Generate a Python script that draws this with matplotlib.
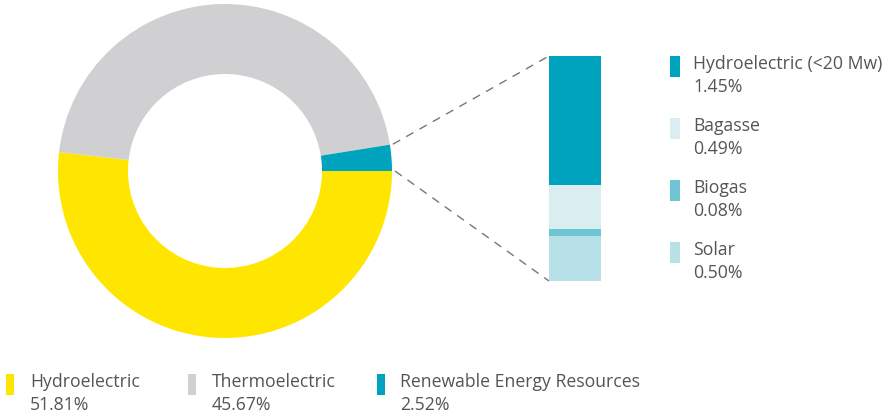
import numpy as np
import matplotlib
matplotlib.use("Agg")
import matplotlib.pyplot as plt
from matplotlib.patches import Rectangle

plt.rcParams['font.family'] = ['Open Sans', 'DejaVu Sans']

# Data
main_labels = ["Hydroelectric", "Thermoelectric", "Renewable Energy Resources"]
main_values = [51.81, 45.67, 2.52]
main_colors = ["#FFE600", "#D0D0D2", "#00A3BE"]

sub_labels = ["Hydroelectric (<20 Mw)", "Bagasse", "Biogas", "Solar"]
sub_values = [1.45, 0.49, 0.08, 0.50]
sub_colors = ["#00A3BE", "#DAEDF0", "#6EC6D5", "#B8E0E7"]

W, H = 887, 416
fig = plt.figure(figsize=(W / 100, H / 100), dpi=100)
ax = fig.add_axes([0, 0, 1, 1])

cx, cy, R, ring = 225, H - 171, 167, 70
ax.pie(main_values, colors=main_colors, startangle=0, counterclock=False,
       radius=R, center=(cx, cy), wedgeprops=dict(width=ring, linewidth=0))
ax.set_xlim(0, W)
ax.set_ylim(0, H)
ax.set_aspect('equal')
ax.axis('off')

# stacked bar
bx0, bw, btop, bbot = 549, 52, 56, 281
bax = fig.add_axes([bx0 / W, (H - bbot) / H, bw / W, (bbot - btop) / H])
total = sum(sub_values)
top = total
for v, c in zip(sub_values, sub_colors):
    bax.bar(0, v, bottom=top - v, width=1, color=c, linewidth=0)
    top -= v
bax.set_xlim(-0.5, 0.5)
bax.set_ylim(0, total)
bax.axis('off')

# connector lines
theta = np.deg2rad(360 * main_values[2] / sum(main_values))
x1, y1 = cx + (R + 3) * np.cos(theta), cy + (R + 3) * np.sin(theta)
ax.plot([x1, bx0], [y1, H - btop], ls=(0, (6, 5)), color="#777777", lw=1)
ax.plot([cx + R + 3, bx0], [cy, H - bbot], ls=(0, (6, 5)), color="#777777", lw=1)

tc = "#555555"
fs = 12.7
# right legend
for i, (lab, v, c) in enumerate(zip(sub_labels, sub_values, sub_colors)):
    y = 56 + i * 62
    ax.add_patch(Rectangle((670, H - y - 21), 10, 21, color=c, lw=0))
    ax.text(693, H - y - 8, lab, fontsize=fs, color=tc, va='center', ha='left')
    ax.text(693, H - y - 31, f"{v:.2f}%", fontsize=fs, color=tc, va='center', ha='left')

# bottom legend
for lab, v, c, mx, tx in zip(main_labels, main_values, main_colors, [6, 188, 377], [30, 212, 400]):
    ax.add_patch(Rectangle((mx, H - 395), 8, 21, color=c, lw=0))
    ax.text(tx, H - 382, lab, fontsize=fs, color=tc, va='center', ha='left')
    ax.text(tx, H - 405, f"{v:.2f}%", fontsize=fs, color=tc, va='center', ha='left')

fig.savefig("out.png", dpi=100)
